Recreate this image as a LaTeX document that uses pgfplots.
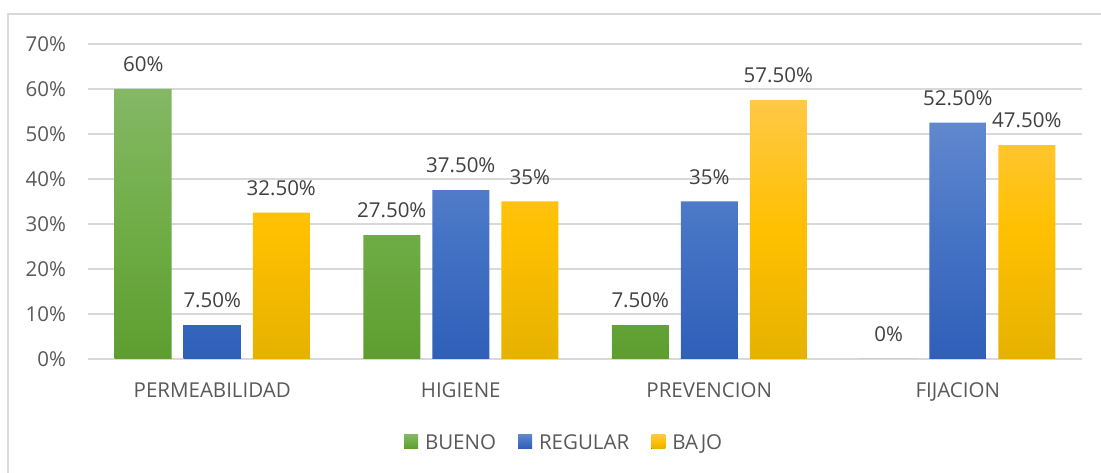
\documentclass[border=0pt]{standalone}
\usepackage{pgfplots}
\pgfplotsset{compat=1.18}
\usepackage{fontspec}
\setmainfont{Open Sans}
\definecolor{txt}{HTML}{595959}
\definecolor{lab}{HTML}{404040}
\definecolor{gridc}{HTML}{D9D9D9}
\definecolor{gtop}{HTML}{84B865}
\definecolor{gmid}{HTML}{70AD47}
\definecolor{gbot}{HTML}{5E9E30}
\definecolor{btop}{HTML}{6088CE}
\definecolor{bmid}{HTML}{4472C4}
\definecolor{bbot}{HTML}{2F5FB8}
\definecolor{ytop}{HTML}{FFC846}
\definecolor{ymid}{HTML}{FFC000}
\definecolor{ybot}{HTML}{E6B200}
\begin{document}
\fontsize{20.5}{24}\selectfont
\begin{tikzpicture}
\path[use as bounding box] (0,0) rectangle (1101pt,473pt);
\draw[color=gridc, line width=1.5pt] (8pt,0) -- (8pt,459pt) -- (1101pt,459pt);
\begin{axis}[
  at={(88pt,114pt)}, anchor=south west,
  scale only axis, width=994pt, height=315pt,
  ymin=0, ymax=70, xmin=-0.5, xmax=3.5,
  ybar=12pt, bar width=57pt,
  axis line style={draw=none},
  major tick length=0pt,
  ymajorgrids, grid style={color=gridc, line width=1.5pt},
  ytick={0,10,20,30,40,50,60,70},
  yticklabels={0\%,10\%,20\%,30\%,40\%,50\%,60\%,70\%},
  xtick={0,1,2,3},
  xticklabels={PERMEABILIDAD,HIGIENE,PREVENCION,FIJACION},
  ticklabel style={font=\fontsize{20.5}{24}\selectfont, text=txt},
  yticklabel style={xshift=-15pt},
  xticklabel style={yshift=-17pt},
  nodes near coords,
  point meta=explicit symbolic,
  every node near coord/.append style={font=\fontsize{20.5}{24}\selectfont, text=lab, yshift=10pt},
  legend style={at={(0.479,-0.27)}, anchor=center, draw=none, legend columns=3,
    font=\fontsize{20.5}{24}\selectfont, text=txt,
    /tikz/every even column/.append style={column sep=20pt}},
  legend image code/.code={\path (0pt,0pt) -- (19pt,0pt);\fill[#1] (0pt,-4.5pt) rectangle (14pt,9.5pt);},
]
\addplot[draw=none, top color=gtop, bottom color=gbot, middle color=gmid]
  coordinates {(0,60) [60\%] (1,27.5) [27.50\%] (2,7.5) [7.50\%] (3,0) [0\%]};
\addplot[draw=none, top color=btop, bottom color=bbot, middle color=bmid]
  coordinates {(0,7.5) [7.50\%] (1,37.5) [37.50\%] (2,35) [35\%] (3,52.5) [52.50\%]};
\addplot[draw=none, top color=ytop, bottom color=ybot, middle color=ymid]
  coordinates {(0,32.5) [32.50\%] (1,35) [35\%] (2,57.5) [57.50\%] (3,47.5) [47.50\%]};
\legend{BUENO,REGULAR,BAJO}
\end{axis}
\end{tikzpicture}
\end{document}
